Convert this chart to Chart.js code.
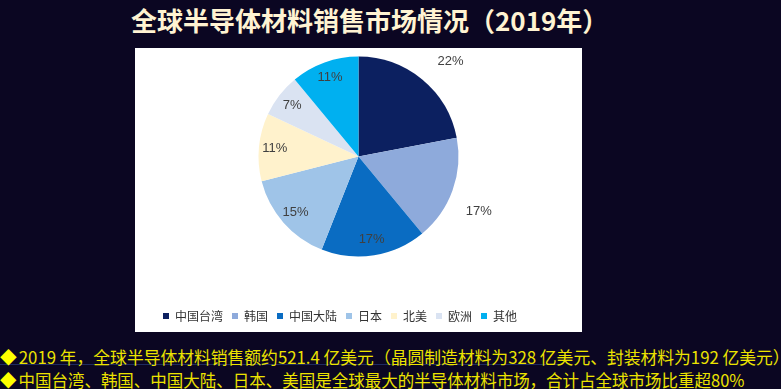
<!DOCTYPE html>
<html>
<head>
<meta charset="utf-8">
<script src="https://cdn.jsdelivr.net/npm/chart.js@4.4.1/dist/chart.umd.min.js"></script>
<style>
  html, body { margin: 0; padding: 0; }
  body { width: 781px; height: 389px; background: #0b0622; position: relative; overflow: hidden; font-family: "Noto Sans CJK SC", sans-serif; }
  #title { position: absolute; left: 131px; top: 4px; font-size: 26px; font-weight: bold; color: #fff3d2; line-height: 32px; white-space: nowrap; }
  #panel { position: absolute; left: 135px; top: 48px; width: 447px; height: 284px; background: #fff; }
  #wrap { position: absolute; left: 135px; top: 12px; width: 447px; height: 320px; }
  .note { position: absolute; left: 0; font-size: 17px; line-height: 23px; color: #ece300; white-space: nowrap; transform-origin: 0 0; }
  .note span { color: #ffff00; margin-right: 2px; }
  #rule { position: absolute; left: 0; top: 364px; width: 560px; height: 1px; background: #1f2b60; }
</style>
</head>
<body>
<div id="title">全球半导体材料销售市场情况（2019年）</div>
<div id="panel"></div>
<div id="wrap"><canvas id="pie-chart"></canvas></div>
<div id="rule"></div>
<div class="note" style="top:345px; transform: scaleX(0.987)"><span>◆</span>2019 年，全球半导体材料销售额约521.4 亿美元（晶圆制造材料为328 亿美元、封装材料为192 亿美元）</div>
<div class="note" style="top:368px; transform: scaleX(0.97)"><span>◆</span>中国台湾、韩国、中国大陆、日本、美国是全球最大的半导体材料市场，合计占全球市场比重超80%</div>
<script>
// Data
const regions = ['中国台湾', '韩国', '中国大陆', '日本', '北美', '欧洲', '其他'];
const shares = [22, 17, 17, 15, 11, 7, 11];
const sliceColors = ['#0c2060', '#8eaadb', '#0a6cc2', '#9fc4e8', '#fff2cc', '#dae3f2', '#00b0f0'];

// Percent labels; the first two sit outside the pie like the original
const pctLabels = {
  id: 'pctLabels',
  afterDatasetsDraw(chart, args, opts) {
    const ctx = chart.ctx;
    const meta = chart.getDatasetMeta(0);
    ctx.save();
    ctx.font = '13px "Liberation Sans", Arial, sans-serif';
    ctx.fillStyle = '#404040';
    ctx.textAlign = 'center';
    ctx.textBaseline = 'middle';
    meta.data.forEach((arc, i) => {
      const p = arc.getProps(['x', 'y', 'startAngle', 'endAngle', 'outerRadius'], true);
      const mid = (p.startAngle + p.endAngle) / 2 + (opts.outside.includes(i) ? 0.08 : 0);
      const r = p.outerRadius * (opts.outside.includes(i) ? 1.32 : 0.84);
      ctx.fillText(shares[i] + '%', p.x + Math.cos(mid) * r, p.y + Math.sin(mid) * r);
    });
    ctx.restore();
  }
};

try {
  const ctx = document.getElementById('pie-chart');
  new Chart(ctx.getContext('2d'), {
    type: 'pie',
    data: {
      labels: regions,
      datasets: [{
        data: shares,
        backgroundColor: sliceColors,
        borderWidth: 0
      }]
    },
    options: {
      responsive: true,
      maintainAspectRatio: false,
      animation: false,
      radius: 100,
      layout: { padding: { left: 19, right: 19, top: 0, bottom: 0 } },
      plugins: {
        tooltip: { enabled: false },
        pctLabels: { outside: [0, 1] },
        legend: {
          position: 'bottom',
          align: 'start',
          labels: {
            boxWidth: 6,
            boxHeight: 6,
            padding: 9,
            color: '#333333',
            font: { size: 12, family: '"Noto Sans CJK SC", sans-serif' }
          }
        }
      }
    },
    plugins: [pctLabels]
  });
} catch (error) {
  console.error('Error initializing chart:', error);
}
</script>
</body>
</html>
